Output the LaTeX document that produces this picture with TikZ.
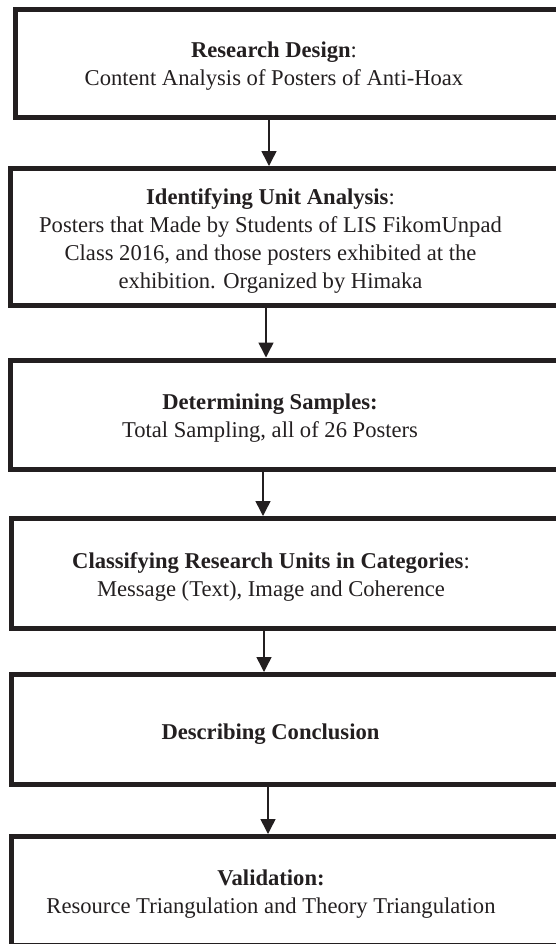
\documentclass[tikz,border=0pt]{standalone}
\usepackage{fontspec}
\setmainfont{Liberation Serif}
\usepackage{tikz}
\usetikzlibrary{arrows.meta,positioning,calc}
\definecolor{ink}{RGB}{35,31,32}
\tikzset{
  stepbox/.style={rectangle,draw=ink,line width=2.5pt,minimum width=320pt,anchor=north west,inner sep=0pt},
  txt/.style={align=center,text=ink,font=\fontsize{11.3}{14}\selectfont},
  arr/.style={-{Triangle[length=7.5pt,width=7.5pt]},draw=ink,fill=ink,line width=0.75pt}
}

\begin{document}
\begin{tikzpicture}[x=0.5pt,y=0.5pt]
\useasboundingbox (0,0) rectangle (556,-944);
\node[stepbox,minimum height=54pt]    (b1) at (12.5,-6.5) {};
\node[stepbox,minimum height=68.25pt] (b2) at (7.5,-166)  {};
\node[stepbox,minimum height=54.75pt] (b3) at (7.5,-357.5){};
\node[stepbox,minimum height=54.75pt] (b4) at (9,-516)    {};
\node[stepbox,minimum height=54.75pt] (b5) at (8.5,-672)  {};
\node[stepbox,minimum height=54.5pt]  (b6) at (8.5,-834)  {};
\node[txt] (t1) at (274,-66.5)    {\textbf{Research Design}:\\Content Analysis of Posters of Anti-Hoax};
\node[txt] (t2) at (270.5,-240.5) {\textbf{Identifying Unit Analysis}:\\Posters that Made by Students of LIS FikomUnpad\\Class 2016, and those posters exhibited at the\\exhibition. Organized by Himaka};
\node[txt] (t3) at (270,-418.5)   {\textbf{Determining Samples:}\\Total Sampling, all of 26 Posters};
\node[txt] (t4) at (271,-576.5)   {\textbf{Classifying Research Units in Categories}:\\Message (Text), Image and Coherence};
\node[txt] (t5) at (270.5,-734)   {\textbf{Describing Conclusion}};
\node[txt] (t6) at (271,-894.5)   {\textbf{Validation:}\\Resource Triangulation and Theory Triangulation};
\draw[arr] ([xshift=-2.5pt]t1.center |- b1.south)  -- ([xshift=-2.5pt]t1.center |- b2.north);
\draw[arr] ([xshift=-2.25pt]t2.center |- b2.south) -- ([xshift=-2.25pt]t2.center |- b3.north);
\draw[arr] ([xshift=-3.5pt]t3.center |- b3.south)  -- ([xshift=-3.5pt]t3.center |- b4.north);
\draw[arr] ([xshift=-3.5pt]t4.center |- b4.south)  -- ([xshift=-3.5pt]t4.center |- b5.north);
\draw[arr] ([xshift=-1.25pt]t5.center |- b5.south) -- ([xshift=-1.25pt]t5.center |- b6.north);
\end{tikzpicture}
\end{document}
